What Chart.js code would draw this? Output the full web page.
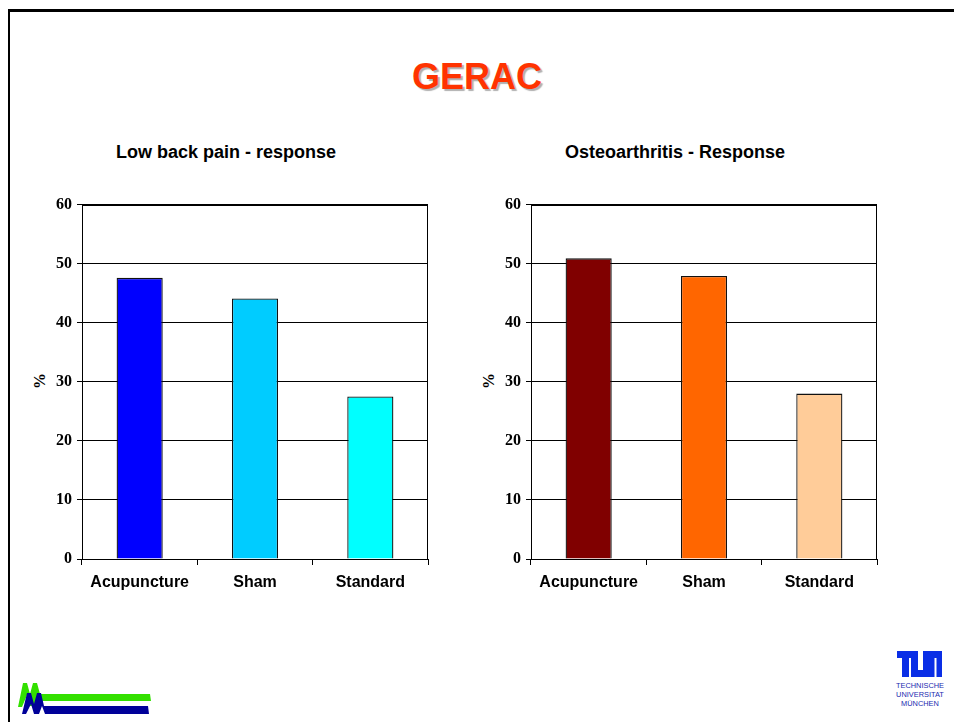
<!DOCTYPE html>
<html>
<head>
<meta charset="utf-8">
<script src="https://cdn.jsdelivr.net/npm/chart.js@4"></script>
<style>
  body { margin: 0; background: #fff; }
  #slide { position: relative; width: 954px; height: 722px; overflow: hidden; background: #fff; font-family: "Liberation Sans", Arial, sans-serif; }
  .frameTop { position: absolute; left: 8px; top: 9px; width: 960px; height: 3px; background: #000; }
  .frameLeft { position: absolute; left: 8px; top: 9px; width: 2px; height: 730px; background: #000; }
  .mainTitle { position: absolute; left: 0; width: 954px; top: 56px; text-align: center; font-weight: bold; font-size: 36px; color: #ff3300; text-shadow: 2px 2px 1px #b0b0b0; }
  .chartTitle { position: absolute; top: 142px; width: 300px; text-align: center; font-weight: bold; font-size: 18px; color: #000; }
  .yTitle { position: absolute; top: 372px; width: 20px; font-family: "Liberation Serif", "Times New Roman", serif; font-weight: bold; font-size: 16px; transform: rotate(-90deg); text-align: center; }
  .box { position: absolute; top: 190px; width: 440px; height: 420px; }
</style>
</head>
<body>
<div id="slide">
  <div class="frameTop"></div>
  <div class="frameLeft"></div>
  <div class="mainTitle">GERAC</div>

  <div class="chartTitle" style="left:76px">Low back pain - response</div>
  <div class="chartTitle" style="left:525px">Osteoarthritis - Response</div>
  <div class="yTitle" style="left:30px">%</div>
  <div class="yTitle" style="left:479px">%</div>

  <div class="box" style="left:0px"><canvas id="lbp" width="440" height="420"></canvas></div>
  <div class="box" style="left:449px"><canvas id="oa" width="440" height="420"></canvas></div>

  <!-- footer logos -->
  <svg style="position:absolute;left:14px;top:680px" width="140" height="40">
    <polygon points="4,27 9,3 13,3 16,14 19,3 23,3 26,14 136,14 137,21 27,21 24,15 21,26 16,26 13,15 8,27" fill="#33e000"/>
    <polygon points="8,34 13,13 17,13 20,24 23,13 27,13 30,26 134,26 135,34 31,34 28,26 25,34 20,34 17,24 12,34" fill="#000099"/>
  </svg>
  <svg style="position:absolute;left:893px;top:648px" width="56" height="62">
    <g fill="#0a2ee6">
      <rect x="4" y="3" width="17" height="7"/>
      <rect x="9" y="3" width="7" height="26"/>
      <path d="M18,3 h7 v19 h5 v-19 h7 v26 h-19 z"/>
      <path d="M33,3 h16 v26 h-5.5 v-19 h-2 v19 h-5.5 v-19 h-3 z"/>
    </g>
    <g fill="#1a2ab0" font-family="Liberation Sans, Arial, sans-serif" font-size="7.4" text-anchor="middle">
      <text x="27" y="40">TECHNISCHE</text>
      <text x="27" y="49">UNIVERSITAT</text>
      <text x="27" y="58">MÜNCHEN</text>
    </g>
  </svg>
</div>

<script>
// study arms, response rates in percent
var arms = ["Acupuncture", "Sham", "Standard"];
var lowBackPain = [47.6, 44.1, 27.5];
var osteoarthritis = [50.9, 47.9, 28.0];
var yTicks = [0, 10, 20, 30, 40, 50, 60];

var lbpColors = ["#0000ff", "#00ccff", "#00ffff"];
var oaColors = ["#800000", "#ff6600", "#ffcc99"];

// outline round the plot area
var plotBox = {
    id: "plotBox",
    afterDraw: function (chart) {
        let a = chart.chartArea;
        let ctx = chart.ctx;
        ctx.save();
        ctx.strokeStyle = "#000";
        ctx.lineWidth = 1;
        ctx.strokeRect(Math.round(a.left) + 0.5, Math.round(a.top) + 0.5,
            Math.round(a.right - a.left) - 1, Math.round(a.bottom - a.top));
        ctx.restore();
    }
};

function newChart(id, values, colors) {
    return new Chart(document.getElementById(id), {
        type: "bar",
        data: {
            labels: arms,
            datasets: [{
                data: values,
                backgroundColor: colors,
                borderColor: "#111",
                borderWidth: 1.3,
                categoryPercentage: 1,
                barPercentage: 0.4
            }]
        },
        options: {
            responsive: false,
            animation: false,
            layout: { padding: { top: 14, right: 12, left: 0, bottom: 0 } },
            plugins: { legend: { display: false }, tooltip: { enabled: false } },
            scales: {
                x: {
                    afterFit: function (s) { s.height = 51; },
                    grid: { offset: true, drawOnChartArea: false, color: "#000", tickLength: 6 },
                    border: { color: "#000" },
                    ticks: {
                        color: "#000", padding: 8, maxRotation: 0,
                        font: { family: "Liberation Sans", weight: "bold", size: 16 }
                    }
                },
                y: {
                    min: 0, max: 60,
                    afterFit: function (s) { s.width = 82; },
                    afterBuildTicks: function (s) { s.ticks = yTicks.map(v => ({ value: v })); },
                    grid: { color: "#000", tickLength: 5 },
                    border: { color: "#000" },
                    ticks: {
                        color: "#000", padding: 5,
                        font: { family: "Liberation Serif", weight: "bold", size: 16 }
                    }
                }
            }
        },
        plugins: [plotBox]
    });
}

newChart("lbp", lowBackPain, lbpColors);
newChart("oa", osteoarthritis, oaColors);
</script>
</body>
</html>
